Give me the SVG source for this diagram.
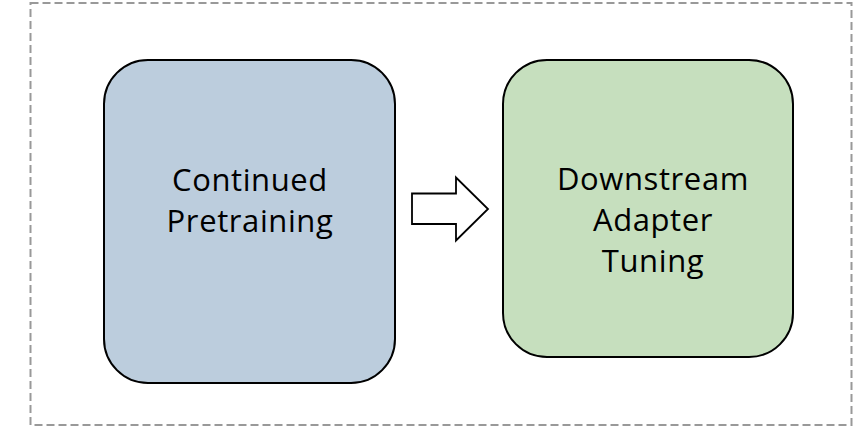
<svg xmlns="http://www.w3.org/2000/svg" width="862" height="426" viewBox="0 0 862 426">
  <style>
    .frame { fill: none; stroke: #999999; stroke-width: 2; stroke-dasharray: 8 4; }
    .stage { stroke: #000000; stroke-width: 2; }
    .label { font-family: "Open Sans", "Liberation Sans", sans-serif; font-size: 31px; letter-spacing: 0.6px; fill: #000000; text-anchor: middle; }
  </style>
  <rect class="frame" x="30.5" y="3" width="821" height="422"/>
  <g id="continued-pretraining">
    <rect class="stage" x="104" y="60" width="291" height="323" rx="44" ry="44" fill="#bccddd"/>
    <text class="label" x="250" y="191">Continued</text>
    <text class="label" x="250" y="232">Pretraining</text>
  </g>
  <g id="downstream-adapter-tuning">
    <rect class="stage" x="503" y="60" width="290" height="297" rx="44" ry="44" fill="#c6dfbe"/>
    <text class="label" x="653" y="190">Downstream</text>
    <text class="label" x="653" y="231">Adapter</text>
    <text class="label" x="653" y="272">Tuning</text>
  </g>
  <g id="connectors">
    <polygon points="412,193.5 456,193.5 456,177.5 488,209 456,240.5 456,224 412,224" fill="#ffffff" stroke="#000000" stroke-width="1.8"/>
  </g>
</svg>
